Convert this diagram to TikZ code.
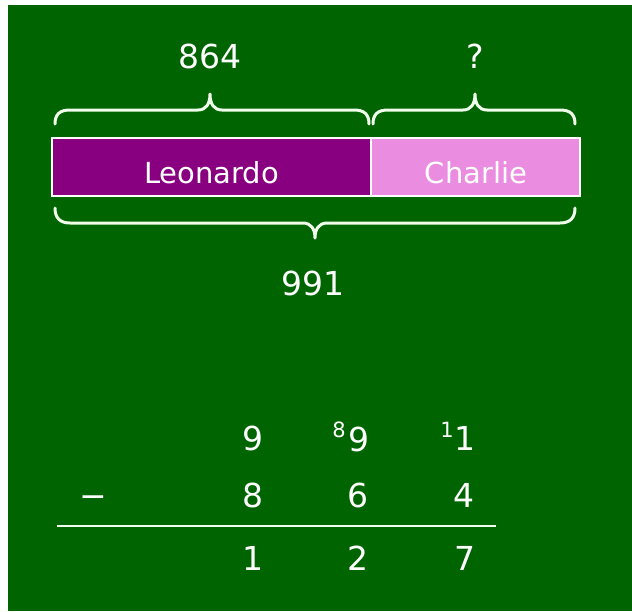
\documentclass[tikz,border=0pt]{standalone}
\usepackage{fontspec}
\setmainfont{DejaVu Sans}
\definecolor{bggreen}{RGB}{0,100,0}
\definecolor{leopurple}{RGB}{136,0,128}
\definecolor{chapink}{RGB}{234,140,224}
\definecolor{chalk}{RGB}{240,255,235}
\tikzset{
  num/.style={text=white,font=\fontsize{33}{36}\selectfont,anchor=base,inner sep=0pt},
  sup/.style={text=white,font=\fontsize{21}{24}\selectfont,anchor=base,inner sep=0pt},
  lbl/.style={text=white,font=\fontsize{29}{32}\selectfont,anchor=base,inner sep=0pt},
  brace/.style={draw=chalk,line width=3pt,line cap=round,line join=round},
  barpart/.style={draw=white,line width=1.8pt}
}
\begin{document}
\begin{tikzpicture}[x=1pt,y=-1pt]
\useasboundingbox (0,0) rectangle (632,611);
\fill[white] (0,0) rectangle (632,611);
\fill[bggreen] (8,5) rectangle (632,611);
% bar
\filldraw[barpart,fill=leopurple] (52,138) rectangle (371,196);
\filldraw[barpart,fill=chapink] (371,138) rectangle (580,196);
\node[lbl] (leo) at (211.5,183) {Leonardo};
\node[lbl] (cha) at (476,183) {Charlie};
% braces
\draw[brace] (55,124) .. controls (55,114) and (60,110) .. (70,110) -- (198,110)
  .. controls (206,110) and (210,104) .. (210,94) .. controls (210,104) and (214,110) .. (222,110)
  -- (354,110) .. controls (364,110) and (369,114) .. (369,124);
\draw[brace] (373,124) .. controls (373,114) and (378,110) .. (388,110) -- (463,110)
  .. controls (471,110) and (475,104) .. (475,94) .. controls (475,104) and (479,110) .. (487,110)
  -- (560,110) .. controls (570,110) and (575,114) .. (575,124);
\draw[brace] (55,208) .. controls (55,218) and (60,223) .. (70,223) -- (303,223)
  .. controls (311,223) and (315,229) .. (315,238) .. controls (315,229) and (319,223) .. (327,223)
  -- (560,223) .. controls (570,223) and (575,218) .. (575,208);
\node[num] (t864) at (210,68) {864};
\node[num] (tq) at (475,68) {?};
\node[num] (t991) at (313,295) {991};
% subtraction
\node[num] (a1) at (253,450) {9};
\node[num] (a2) at (359,451) {9};
\node[num] (a3) at (465,450) {1};
\node[sup] (s2) at (339,437) {8};
\node[sup] (s3) at (447,437) {1};
\node[num] (mn) at (93,507) {−};
\node[num] (b1) at (253,507) {8};
\node[num] (b2) at (358,507) {6};
\node[num] (b3) at (464,507) {4};
\coordinate (l1) at (57,526);
\coordinate (l2) at (496,526);
\draw[chalk,line width=2pt] (l1) -- (l2);
\node[num] (c1) at (253,570) {1};
\node[num] (c2) at (358,570) {2};
\node[num] (c3) at (465,570) {7};
\end{tikzpicture}
\end{document}
